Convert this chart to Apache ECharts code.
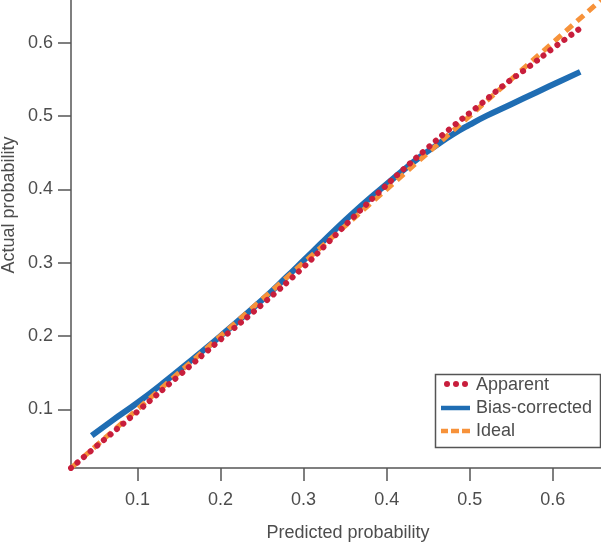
<!DOCTYPE html>
<html>
<head>
<meta charset="utf-8">
<script src="https://cdn.jsdelivr.net/npm/echarts@6/dist/echarts.min.js"></script>
<style>
html,body{margin:0;padding:0;background:#fff;}
#c{width:601px;height:545px;}
</style>
</head>
<body>
<div id="c"></div>
<script>
// Data
var tickValues = [0.1, 0.2, 0.3, 0.4, 0.5, 0.6];
var seriesNames = ['Apparent', 'Bias-corrected', 'Ideal'];

var apparentX = [0.02, 0.05, 0.10, 0.15, 0.20, 0.25, 0.30, 0.33, 0.36, 0.39, 0.42, 0.45, 0.48, 0.51, 0.54, 0.57, 0.60, 0.635];
var apparentY = [0.02, 0.049, 0.097, 0.146, 0.195, 0.243, 0.294, 0.328, 0.362, 0.395, 0.427, 0.457, 0.486, 0.513, 0.541, 0.566, 0.592, 0.621];

var biasX = [0.045, 0.07, 0.10, 0.13, 0.167, 0.20, 0.25, 0.28, 0.30, 0.32, 0.34, 0.36, 0.38, 0.40, 0.42, 0.44, 0.46, 0.48, 0.50, 0.52, 0.55, 0.58, 0.61, 0.633];
var biasY = [0.064, 0.085, 0.109, 0.135, 0.169, 0.200, 0.249, 0.281, 0.303, 0.325, 0.347, 0.368, 0.388, 0.407, 0.426, 0.444, 0.460, 0.475, 0.488, 0.500, 0.516, 0.532, 0.548, 0.560];

var idealX = [0.02, 0.658];
var idealY = [0.02, 0.658];

function zip(xs, ys) { return xs.map(function (x, i) { return [x, ys[i]]; }); }

var textColor = '#4d4d4d';
var axisColor = '#555555';
var font = 'Liberation Sans, Arial, sans-serif';
var red = '#c81e3c';
var blue = '#1f6db3';
var orange = '#f7923a';

var chart = echarts.init(document.getElementById('c'), null, {renderer: 'canvas'});

function axisCommon(isX) {
  return {
    type: 'value',
    min: 0.02,
    max: 0.658,
    splitLine: {show: false},
    axisLine: {show: true, onZero: false, lineStyle: {color: axisColor, width: 1.5}},
    axisTick: {show: true, length: 13, customValues: tickValues, lineStyle: {color: axisColor, width: 1.5}},
    axisLabel: {
      customValues: tickValues,
      color: textColor,
      fontSize: 18,
      fontFamily: font,
      margin: isX ? 23 : 18,
      formatter: function (v) { return (Math.round(v * 10) / 10).toFixed(1); }
    }
  };
}

var legendX = 435, legendY = 374;
var legendItems = [];
legendItems.push({type: 'rect', shape: {x: legendX + 0.5, y: legendY + 0.5, width: 165, height: 73}, style: {fill: '#fff', stroke: '#555', lineWidth: 1.5}, z: 100});
[447, 456, 465].forEach(function (cx) {
  legendItems.push({type: 'circle', shape: {cx: cx, cy: 384, r: 3}, style: {fill: red}, z: 101});
});
legendItems.push({type: 'line', shape: {x1: 441, y1: 408, x2: 470, y2: 408}, style: {stroke: blue, lineWidth: 4.5}, z: 101});
[[441, 448], [451, 459], [462, 470]].forEach(function (d) {
  legendItems.push({type: 'line', shape: {x1: d[0], y1: 431, x2: d[1], y2: 431}, style: {stroke: orange, lineWidth: 4.5}, z: 101});
});
[[seriesNames[0], 385], [seriesNames[1], 408], [seriesNames[2], 431]].forEach(function (t) {
  legendItems.push({type: 'text', x: 476, y: t[1], style: {text: t[0], fill: textColor, font: '18px ' + font, textVerticalAlign: 'middle', verticalAlign: 'middle'}, z: 101});
});

var option = {
  animation: false,
  backgroundColor: '#ffffff',
  grid: {left: 71, right: 0, top: 0, bottom: 77, containLabel: false},
  xAxis: axisCommon(true),
  yAxis: axisCommon(false),
  series: [
    {
      name: seriesNames[1], type: 'line', data: zip(biasX, biasY), smooth: true, showSymbol: false, z: 2,
      lineStyle: {color: blue, width: 6}
    },
    {
      name: seriesNames[2], type: 'line', data: zip(idealX, idealY), showSymbol: false, z: 3,
      lineStyle: {color: orange, width: 5, type: [9, 6], cap: 'butt'}
    },
    {
      name: seriesNames[0], type: 'line', data: zip(apparentX, apparentY), smooth: true, showSymbol: false, z: 4,
      lineStyle: {color: red, width: 6, type: [0.1, 8.5], cap: 'round'}
    }
  ],
  graphic: [
    {type: 'text', x: 348, y: 533, style: {text: 'Predicted probability', fill: textColor, font: '18px ' + font, textAlign: 'center', textVerticalAlign: 'middle', align: 'center', verticalAlign: 'middle'}},
    {type: 'text', x: 9, y: 205, rotation: Math.PI / 2, style: {text: 'Actual probability', fill: textColor, font: '18px ' + font, textAlign: 'center', textVerticalAlign: 'middle', align: 'center', verticalAlign: 'middle'}}
  ].concat(legendItems)
};
chart.setOption(option);
</script>
</body>
</html>
